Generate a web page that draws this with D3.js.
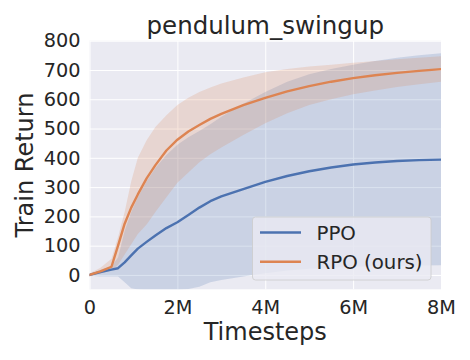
<!DOCTYPE html>
<html>
<head>
<meta charset="utf-8">
<script src="https://cdn.jsdelivr.net/npm/d3@7"></script>
<style>
  body { margin: 0; background: #ffffff; }
  text { font-family: "DejaVu Sans", sans-serif; fill: #262626; }
</style>
</head>
<body>
<svg id="chart" width="470" height="360"></svg>
<script>
// ---- data ----
const title = "pendulum_swingup";
const xLabel = "Timesteps";
const yLabel = "Train Return";
const seriesNames = ["PPO", "RPO (ours)"];
const steps = [0, 0.25e6, 0.5e6, 0.65e6, 0.8e6, 0.95e6, 1.1e6, 1.3e6, 1.5e6, 1.75e6, 2e6, 2.25e6, 2.5e6, 2.75e6, 3e6, 3.5e6, 4e6, 4.5e6, 5e6, 5.5e6, 6e6, 6.5e6, 7e6, 7.5e6, 8e6];
const ppoMean  = [0, 10, 18, 23, 43, 67, 90, 113, 135, 160, 180, 205, 230, 252, 268, 293, 318, 338, 354, 367, 377, 384, 389, 392, 394];
const ppoUpper = [2, 18, 30, 60, 150, 215, 265, 320, 365, 410, 445, 470, 492, 515, 540, 585, 625, 660, 685, 703, 718, 731, 742, 750, 757];
const ppoLower = [-3, -5, -5, -5, -25, -45, -50, -52, -52, -52, -52, -48, -40, -25, -17, -5, 6, 15, 21, 25, 28, 30, 31, 32, 33];
const rpoMean  = [0, 12, 28, 100, 175, 230, 275, 330, 375, 425, 462, 490, 512, 533, 550, 580, 605, 627, 645, 660, 672, 682, 690, 697, 703];
const rpoUpper = [5, 25, 55, 130, 215, 320, 400, 460, 505, 545, 580, 605, 625, 640, 654, 674, 692, 703, 712, 718, 725, 731, 737, 742, 747];
const rpoLower = [-5, 5, 15, 35, 70, 105, 140, 172, 215, 265, 315, 350, 385, 412, 435, 478, 518, 552, 580, 600, 617, 630, 642, 651, 660];
const xTicks = [0, 2e6, 4e6, 6e6, 8e6];
const xTickLabels = ["0", "2M", "4M", "6M", "8M"];
const yTicks = [0, 100, 200, 300, 400, 500, 600, 700, 800];
const colors = ["#4c72b0", "#dd8452"];

// ---- layout ----
const svg = d3.select("#chart");
const L = 89.5, R = 441, T = 40.7, B = 289.3;
const x = d3.scaleLinear().domain([0, 8e6]).range([L, R]);
const y = d3.scaleLinear().domain([-49, 800]).range([B, T]);

svg.append("rect").attr("x", L).attr("y", T).attr("width", R - L).attr("height", B - T).attr("fill", "#eaeaf2");

svg.append("defs").append("clipPath").attr("id", "clip")
  .append("rect").attr("x", L).attr("y", T).attr("width", R - L).attr("height", B - T);

// grid
const gx = svg.append("g").attr("transform", `translate(0,${B})`)
  .call(d3.axisBottom(x).tickValues(xTicks).tickSize(-(B - T)).tickFormat((d, i) => xTickLabels[i]).tickPadding(11));
const gy = svg.append("g").attr("transform", `translate(${L},0)`)
  .call(d3.axisLeft(y).tickValues(yTicks).tickSize(-(R - L)).tickPadding(9));
[gx, gy].forEach(g => {
  g.select(".domain").remove();
  g.selectAll(".tick line").attr("stroke", "#ffffff").attr("stroke-width", 1);
  g.selectAll(".tick text").attr("fill", "#262626").style("font-size", "19.3px").style("font-family", "DejaVu Sans");
});

const series = [
  { mean: ppoMean, lo: ppoLower, hi: ppoUpper },
  { mean: rpoMean, lo: rpoLower, hi: rpoUpper }
];
const plot = svg.append("g").attr("clip-path", "url(#clip)");
const area = d3.area().x((d, i) => x(steps[i])).y0(d => y(d[0])).y1(d => y(d[1]));
const line = d3.line().x((d, i) => x(steps[i])).y(d => y(d));
series.forEach((s, k) => {
  plot.append("path").datum(s.lo.map((v, i) => [v, s.hi[i]]))
    .attr("d", area).attr("fill", colors[k]).attr("fill-opacity", 0.2);
});
series.forEach((s, k) => {
  plot.append("path").datum(s.mean).attr("d", line)
    .attr("fill", "none").attr("stroke", colors[k]).attr("stroke-width", 2.4)
    .attr("stroke-linejoin", "round").attr("stroke-linecap", "round");
});

// title & labels
svg.append("text").attr("x", (L + R) / 2).attr("y", 34).attr("text-anchor", "middle")
  .style("font-size", "24.5px").text(title);
svg.append("text").attr("x", (L + R) / 2).attr("y", 340).attr("text-anchor", "middle")
  .style("font-size", "24px").text(xLabel);
svg.append("text").attr("transform", `translate(33,${(T + B) / 2}) rotate(-90)`).attr("text-anchor", "middle")
  .style("font-size", "24px").text(yLabel);

// legend
const lg = svg.append("g");
lg.append("rect").attr("x", 252.5).attr("y", 217).attr("width", 178.5).attr("height", 63).attr("rx", 3)
  .attr("fill", "#eaeaf2").attr("fill-opacity", 0.8).attr("stroke", "#cccccc").attr("stroke-width", 0.8);
seriesNames.forEach((n, k) => {
  const yy = 232.5 + k * 29.3;
  lg.append("line").attr("x1", 260).attr("x2", 301).attr("y1", yy).attr("y2", yy)
    .attr("stroke", colors[k]).attr("stroke-width", 2.4);
  lg.append("text").attr("x", 316.5).attr("y", yy + 7).style("font-size", "19.8px").text(n);
});
</script>
</body>
</html>
